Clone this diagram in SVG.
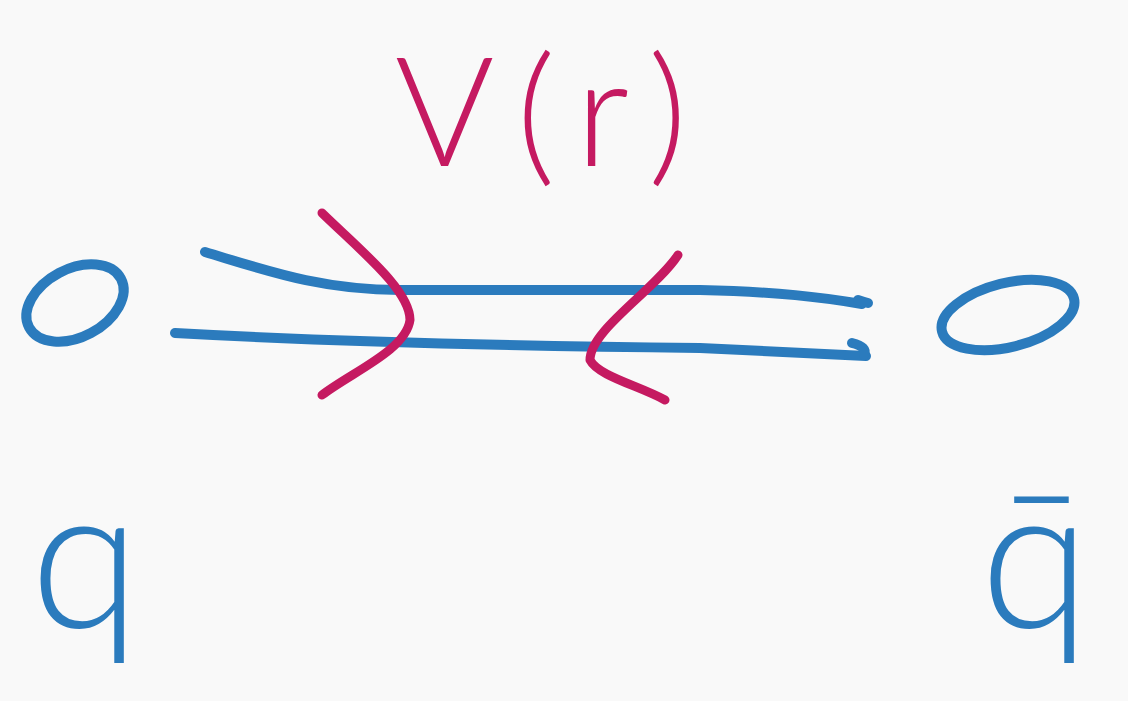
<svg xmlns="http://www.w3.org/2000/svg" width="1128" height="701" viewBox="0 0 1128 701">
  <style>
    .ink-blue { fill: none; stroke: #2b7bbd; stroke-width: 10; stroke-linecap: round; stroke-linejoin: round; }
    .ink-red { fill: none; stroke: #c51a61; stroke-width: 9; stroke-linecap: round; stroke-linejoin: round; }
    .hand { font-family: "Lato", "Open Sans", "Liberation Sans", sans-serif; font-weight: 300; }
    .lbl-blue { fill: #2b7bbd; }
    .lbl-red { fill: #c51a61; }
  </style>
  <rect width="1128" height="701" fill="#f9f9f9"/>

  <!-- potential label -->
  <g id="potential-label">
    <text class="hand lbl-red" x="552" y="166" font-size="152" letter-spacing="22" text-anchor="middle">V(r)</text>
  </g>

  <!-- quark -->
  <g id="quark">
    <ellipse class="ink-blue" cx="75" cy="303" rx="52" ry="34" transform="rotate(-28 75 303)"/>
    <text class="hand lbl-blue" x="85" y="628" font-size="200" text-anchor="middle">q</text>
  </g>

  <!-- antiquark -->
  <g id="antiquark">
    <ellipse class="ink-blue" cx="1008" cy="315" rx="68" ry="32" transform="rotate(-14 1008 315)"/>
    <text class="hand lbl-blue" x="1035" y="628" font-size="200" text-anchor="middle">q̄</text>
  </g>

  <!-- flux tube between the pair, with the pinching force marks -->
  <g id="connectors">
    <path class="ink-blue" d="M205,252 C265,270 320,290 400,290 L700,290 C780,292 820,297 862,304"/>
    <path class="ink-blue" d="M858,300 q6,2 10,3"/>
    <path class="ink-blue" d="M175,333 C300,340 500,346 700,348 L866,356"/>
    <path class="ink-blue" d="M852,343 q16,4 12,12"/>
    <path class="ink-red" d="M322,213 C360,250 410,290 410,320 C406,350 352,372 322,395"/>
    <path class="ink-red" d="M678,255 C655,290 590,330 590,360 C598,376 640,386 665,400"/>
  </g>
</svg>
